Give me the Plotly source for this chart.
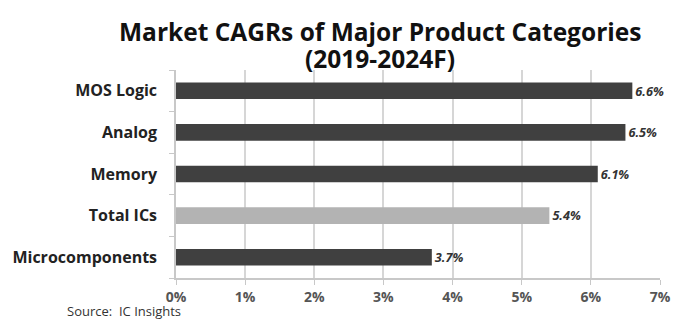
import plotly.graph_objects as go

categories = ["MOS Logic", "Analog", "Memory", "Total ICs", "Microcomponents"]
cagr = [6.6, 6.5, 6.1, 5.4, 3.7]
bar_colors = ["#404040", "#404040", "#404040", "#b3b3b3", "#404040"]
x_ticks = [0, 1, 2, 3, 4, 5, 6, 7]
x_tick_labels = [f"{v}%" for v in x_ticks]
title_lines = ["Market CAGRs of Major Product Categories", "(2019-2024F)"]
source_text = "Source:  IC Insights"

FONT = "Open Sans"

fig = go.Figure()
fig.add_trace(go.Bar(
    y=categories,
    x=cagr,
    orientation="h",
    width=0.4,
    marker=dict(color=bar_colors, line=dict(width=0)),
    text=[f"<b><i>{v:.1f}%</i></b>" for v in cagr],
    textposition="outside",
    textfont=dict(family=FONT, size=14.5, color="#333333"),
    cliponaxis=False,
))

fig.update_layout(
    width=680, height=319,
    margin=dict(l=176, r=20, t=70, b=41),
    paper_bgcolor="white", plot_bgcolor="white",
    showlegend=False,
    xaxis=dict(
        range=[0, 7], tickvals=x_ticks, ticktext=[f"<b>{t}</b>" for t in x_tick_labels],
        showgrid=True, gridcolor="#d6d6d6", gridwidth=1.5,
        showline=True, linecolor="#c8c8c8", linewidth=1.5,
        ticks="outside", ticklen=5, tickcolor="#c8c8c8",
        tickfont=dict(family=FONT, size=14, color="#555555"),
        zeroline=False, automargin=False,
    ),
    yaxis=dict(
        type="category", categoryorder="array", categoryarray=categories[::-1],
        tickvals=categories[::-1], ticktext=[f"<b>{c}</b>" for c in categories[::-1]],
        tickson="boundaries", ticks="outside", ticklen=5, tickcolor="#c8c8c8",
        showline=True, linecolor="#c8c8c8", linewidth=1.5,
        showgrid=False, automargin=False,
        tickfont=dict(family=FONT, size=16, color="#222222"),
        ticklabelstandoff=14,
    ),
)

# title lines (screen y ~32 and ~58; plot spans y 70..278)
for line, ypix in zip(title_lines, [31, 58]):
    fig.add_annotation(
        text=f"<b>{line}</b>",
        xref="paper", yref="paper", x=(380 - 176) / 484, y=(278 - ypix) / 208,
        xanchor="center", yanchor="middle", showarrow=False,
        font=dict(family=FONT, size=24.5, color="#111111"),
    )

fig.add_annotation(
    text=source_text, xref="paper", yref="paper",
    x=-0.229, y=-0.16, xanchor="left", yanchor="middle", showarrow=False,
    font=dict(family=FONT, size=13, color="#333333"),
)

fig.write_html(
    "out.html",
    config={"displayModeBar": False},
    post_script="document.body.style.margin='0';document.body.style.overflow='hidden';",
)
